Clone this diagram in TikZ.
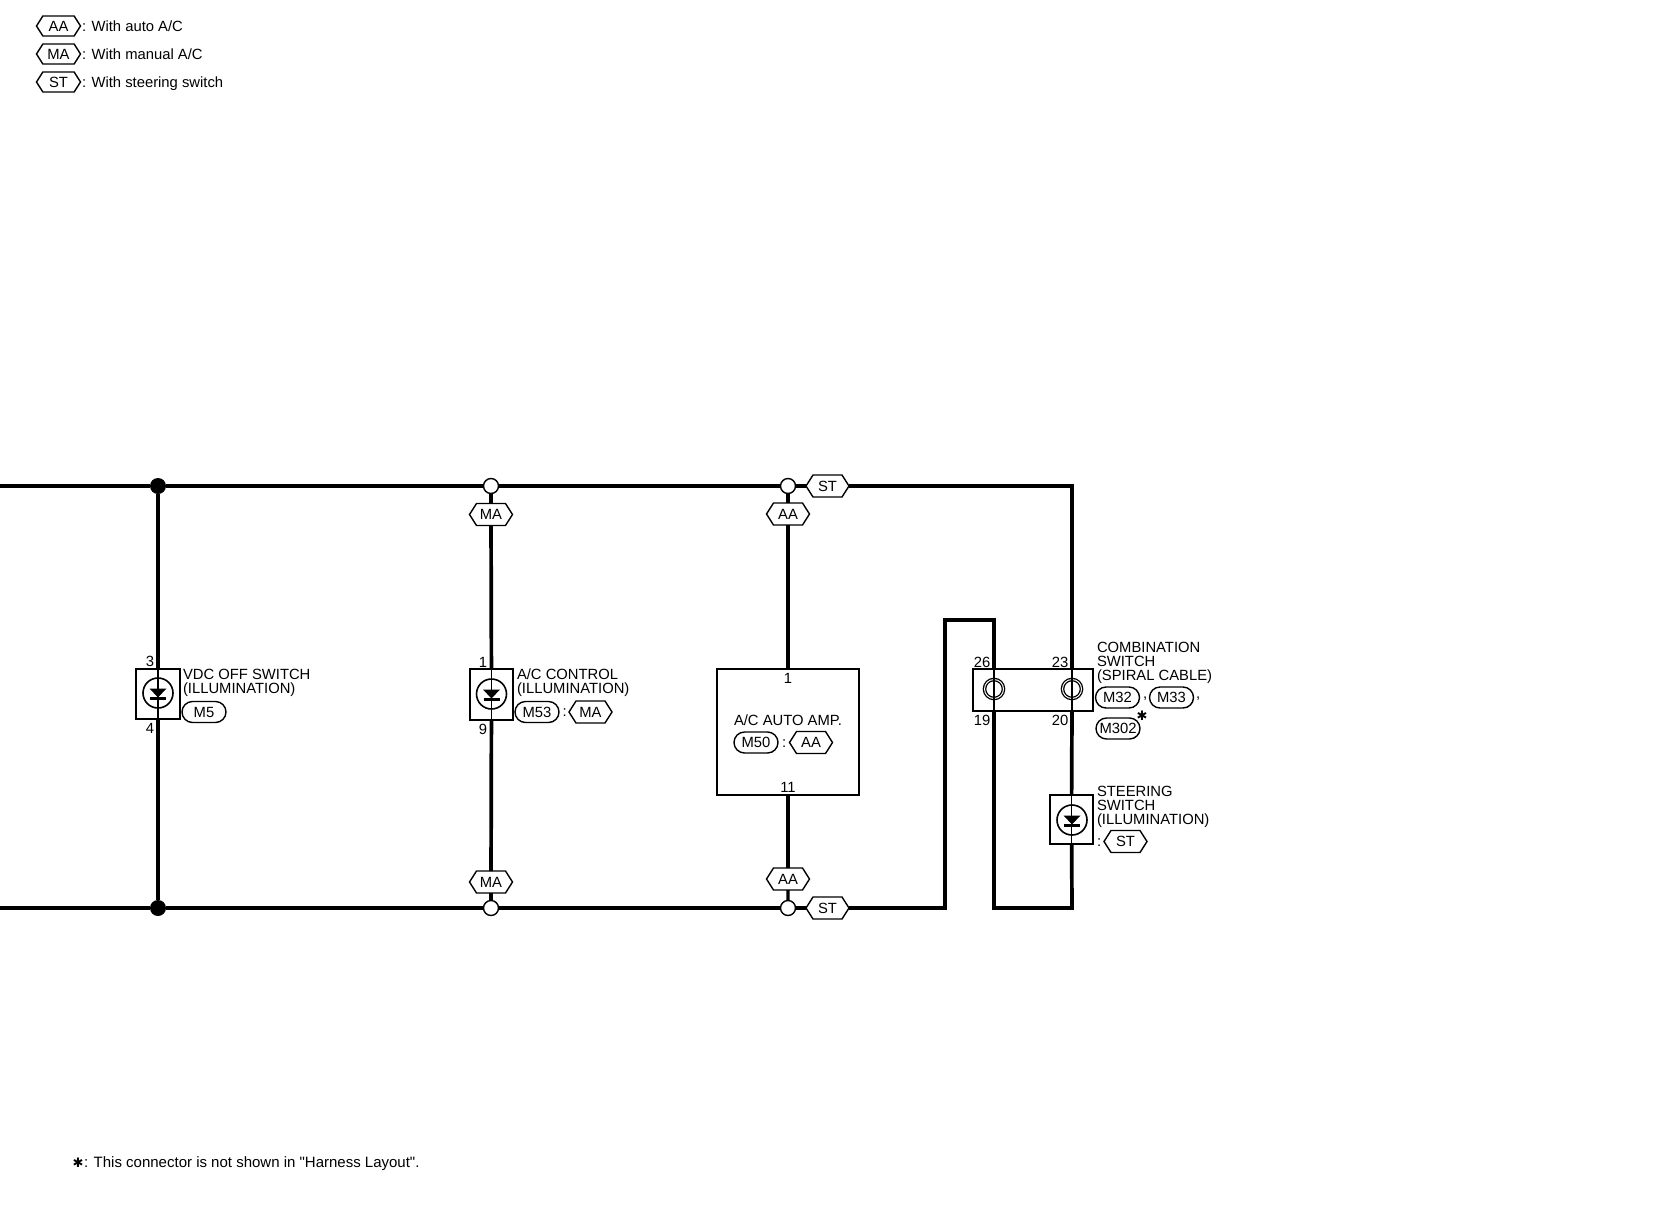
\documentclass[tikz,border=0pt]{standalone}
\usepackage{fontspec}
\setmainfont{Liberation Sans}
\newfontfamily\starfont{DejaVu Sans}
\usetikzlibrary{shapes.geometric,shapes.symbols,shapes.misc}
\tikzstyle{wire} = [line width=3.7]
\tikzstyle{ampwire} = [line width=3.1]
\tikzstyle{thickwire} = [line width=4.7]
\tikzstyle{thinwire} = [line width=1.2]
\tikzstyle{heavyedge} = [line width=2.4]
\tikzstyle{tag} = [inner sep=0, outer sep=0, font=\fontsize{14.8}{14}\selectfont, align=left, anchor=west]
\tikzstyle{pinno} = [inner sep=0, outer sep=0, font=\fontsize{14.8}{14}\selectfont]
\tikzstyle{hexlabel} = [signal, signal to=east and west, signal pointer angle=115, draw, line width=1.4, fill=white, minimum width=43, minimum height=22, inner sep=0, outer sep=0, font=\fontsize{14.8}{14}\selectfont]
\tikzstyle{pilllabel} = [rounded rectangle, draw, line width=1.4, minimum width=44, minimum height=21, inner sep=0, outer sep=0, font=\fontsize{14.8}{14}\selectfont]
\tikzstyle{partbox} = [rectangle, draw, line width=1.4, inner sep=0, outer sep=0]
\tikzstyle{lamp} = [circle, draw, line width=1.6, minimum size=30, inner sep=0, outer sep=0]
\tikzstyle{spiral} = [circle, draw, line width=1.3, double, double distance=1, minimum size=19, inner sep=0, outer sep=0]
\tikzstyle{dotfull} = [circle, fill=black, minimum size=16, inner sep=0, outer sep=0]
\tikzstyle{dotopen} = [circle, draw, line width=1.4, fill=white, minimum size=15, inner sep=0, outer sep=0]
\newcommand{\diodemark}[1]{
	\fill (#1) ++(-8.5,-4.5) -- ++(17,0) -- ++(-8.5,9) -- cycle;
	\draw [line width=2.4] (#1) ++(-8,5.5) -- ++(16,0);
}
\begin{document}
\begin{tikzpicture}[x=1pt, y=-1pt]
	\useasboundingbox (0,0) rectangle (1660,1216);
	%legend
	\node (legaa) [hexlabel, minimum height=20, minimum width=44] at (58.5,26) {AA};
	\node (legma) [hexlabel, minimum height=20, minimum width=44] at (58.5,54) {MA};
	\node (legst) [hexlabel, minimum height=20, minimum width=44] at (58.5,82) {ST};
	\node (txtaa) [tag] at (82,26) {: With auto A/C};
	\node (txtma) [tag] at (82,54) {: With manual A/C};
	\node (txtst) [tag] at (82,84) {: With steering switch};
	%junctions
	\coordinate (topleft) at (0,486);
	\coordinate (botleft) at (0,908);
	\coordinate (thinstart) at (382,486);
	\coordinate (topright) at (1072,486);
	\node (top1) [dotfull] at (158,486) {};
	\node (bot1) [dotfull] at (158,908) {};
	\node (top2) [dotopen] at (491,486) {};
	\node (bot2) [dotopen] at (491,908) {};
	\node (top3) [dotopen] at (788,486) {};
	\node (bot3) [dotopen] at (788,908) {};
	\node (sttop) [hexlabel] at (827.5,486) {ST};
	\node (stbot) [hexlabel] at (827.5,908) {ST};
	\node (matop) [hexlabel] at (491,514.5) {MA};
	\node (mabot) [hexlabel] at (491,882) {MA};
	\node (aatop) [hexlabel] at (788,514) {AA};
	\node (aabot) [hexlabel] at (788,879) {AA};
	%vdc off switch
	\node (vdc) [partbox, minimum width=44, minimum height=50] at (158,694) {};
	\node (vdclamp) [lamp] at (158,693) {};
	\node (vdcup) [pinno] at (150,661) {3};
	\node (vdcdown) [pinno] at (150,728) {4};
	\node (vdctxt) [tag] at (183,683) {VDC OFF SWITCH\\(ILLUMINATION)};
	\node (m5) [pilllabel] at (204,712) {M5};
	%ac control
	\node (ac) [partbox, minimum width=43, minimum height=51] at (491.5,694.5) {};
	\node (aclamp) [lamp] at (491.5,694) {};
	\node (acup) [pinno] at (483,662) {1};
	\node (acdown) [pinno] at (483,729) {9};
	\node (actxt) [tag] at (517,683) {A/C CONTROL\\(ILLUMINATION)};
	\node (m53) [pilllabel] at (537,712) {M53};
	\node (accolon) [tag] at (562.5,713) {:};
	\node (acma) [hexlabel] at (590.5,712) {MA};
	%ac auto amp
	\node (amp) [partbox, minimum width=142, minimum height=126] at (788,732) {};
	\node (ampup) [pinno] at (788,678) {1};
	\node (ampdown) [pinno] at (788,787) {11};
	\node (amptxt) [pinno] at (788,720) {A/C AUTO AMP.};
	\node (m50) [pilllabel] at (756,742.5) {M50};
	\node (ampcolon) [tag] at (782,744) {:};
	\node (ampaa) [hexlabel] at (811,742.5) {AA};
	%combination switch
	\node (comb) [partbox, minimum width=120, minimum height=42] at (1033,690) {};
	\node (ring1) [spiral] at (994,689) {};
	\node (ring2) [spiral] at (1072,689) {};
	\coordinate (combin1) at (994,669);
	\coordinate (combout1) at (994,711);
	\coordinate (combin2) at (1072,669);
	\coordinate (combout2) at (1072,711);
	\node (pin26) [pinno] at (982,662) {26};
	\node (pin23) [pinno] at (1060,662) {23};
	\node (pin19) [pinno] at (982,720) {19};
	\node (pin20) [pinno] at (1060,720) {20};
	\node (combtxt) [tag] at (1097,662.5) {COMBINATION\\SWITCH\\(SPIRAL CABLE)};
	\node (m32) [pilllabel] at (1117.5,697.5) {M32};
	\node (comma1) [tag] at (1143,699) {,};
	\node (m33) [pilllabel] at (1171.5,697.5) {M33};
	\node (comma2) [tag] at (1196,699) {,};
	\node (m302) [pilllabel] at (1118,728.5) {M302};
	\node (star1) [pinno, font=\starfont\fontsize{13}{13}\selectfont] at (1142,716) {✱};
	%steering switch
	\node (steer) [partbox, minimum width=43, minimum height=49] at (1071.5,819.5) {};
	\node (steerlamp) [lamp] at (1072,820) {};
	\node (steertxt) [tag] at (1097,806.5) {STEERING\\SWITCH\\(ILLUMINATION)};
	\node (steercolon) [tag] at (1097,843) {:};
	\node (steerst) [hexlabel] at (1125.5,841.5) {ST};
	%note
	\node (star2) [pinno, font=\starfont\fontsize{13}{13}\selectfont] at (78,1163) {✱};
	\node (note) [tag, font=\fontsize{15}{14}\selectfont] at (84,1163.5) {: This connector is not shown in \textquotedbl Harness Layout\textquotedbl.};
	%corners of the loop
	\coordinate (loop1) at (945,908);
	\coordinate (loop2) at (945,620);
	\coordinate (loop3) at (994,620);
	\coordinate (loop4) at (994,908);
	\coordinate (loop5) at (1072,908);
	%lines
	\draw [thickwire] (topleft) -- (top1) -- (thinstart);
	\draw [wire] (thinstart) -- (top2);
	\draw [wire] (top2) -- (top3);
	\draw [wire] (top3) -- (sttop);
	\draw [wire] (sttop) -- (topright) -- (combin2);
	\draw [wire] (botleft) -- (bot1) -- (bot2);
	\draw [wire] (bot2) -- (bot3);
	\draw [wire] (bot3) -- (stbot);
	\draw [wire] (stbot) -- (loop1) -- (loop2) -- (loop3) -- (combin1);
	\draw [wire] (combout1) -- (loop4) -- (loop5) -- (steer);
	\draw [wire] (combout2) -- (steer);
	\draw [thickwire] (top1) -- (vdc);
	\draw [thickwire] (vdc) -- (bot1);
	\draw [wire] (top2) -- (matop);
	\draw [wire] (matop) -- (ac);
	\draw [wire] (ac) -- (mabot);
	\draw [wire] (mabot) -- (bot2);
	\draw [ampwire] (top3) -- (aatop);
	\draw [ampwire] (aatop) -- (amp);
	\draw [ampwire] (amp) -- (aabot);
	\draw [ampwire] (aabot) -- (bot3);
	\draw [thinwire] (vdc.north) -- (vdc.south);
	\draw [thinwire] (ac.north) -- (ac.south);
	\draw [thinwire] (steer.north) -- (steer.south);
	\draw [thinwire] (combin1) -- (combout1);
	\draw [thinwire] (combin2) -- (combout2);
	%heavier box edges
	\draw [heavyedge] (amp.south west) -- (amp.south east);
	\draw [heavyedge] (ac.north west) -- (ac.north east);
	\draw [heavyedge] (steer.south west) -- (steer.north west) -- (steer.north east);
	\diodemark{vdclamp}
	\diodemark{aclamp}
	\diodemark{steerlamp}
\end{tikzpicture}
\end{document}
